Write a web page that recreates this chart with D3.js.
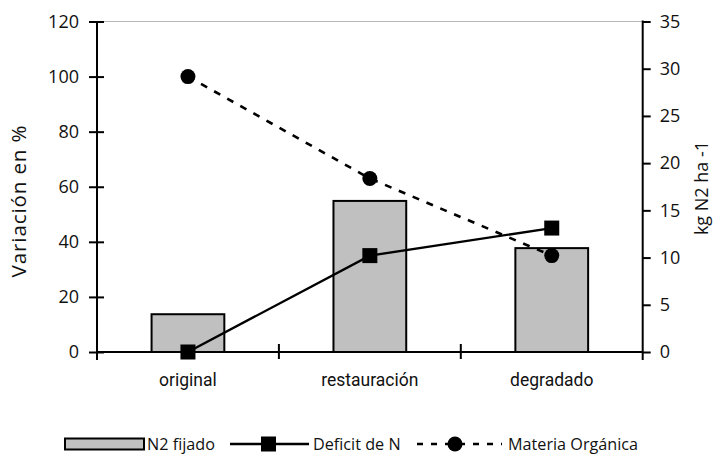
<!DOCTYPE html>
<html><head><meta charset="utf-8">
<script src="https://cdn.jsdelivr.net/npm/d3@7"></script>
<style>body{margin:0;background:#fff}svg{display:block}</style>
</head><body>
<svg id="c" width="713" height="454"></svg>
<script>
const categories = ["original", "restauración", "degradado"];
const n2Fijado = [4, 16, 11];            // kg N2 ha-1 (right axis)
const deficitN = [0, 35, 45];            // % (left axis)
const materiaOrganica = [100, 63, 35];   // % (left axis)
const leftTicks = [0, 20, 40, 60, 80, 100, 120];
const rightTicks = [0, 5, 10, 15, 20, 25, 30, 35];
const seriesNames = ["N2 fijado", "Deficit de N", "Materia Orgánica"];

const svg = d3.select("#c");
const L = 97, R = 642.7, T = 21.5, B = 352;
const numFont = "'Open Sans', sans-serif";

const x = d3.scaleBand().domain(categories).range([L, R]).paddingInner(0.6).paddingOuter(0.3);
const xb = d3.scaleLinear().domain([0, categories.length]).range([L, R]);
const yL = d3.scaleLinear().domain([0, 120]).range([B, T]);
const yR = d3.scaleLinear().domain([0, 35]).range([B, T]);
const cx = c => x(c) + x.bandwidth() / 2;

// top gray border
svg.append("line").attr("x1", L).attr("x2", R).attr("y1", T).attr("y2", T)
  .attr("stroke", "#b8b8b8").attr("stroke-width", 1);

// bars
svg.selectAll("rect.bar").data(categories).join("rect").attr("class", "bar")
  .attr("x", d => x(d)).attr("width", x.bandwidth())
  .attr("y", (d, i) => yR(n2Fijado[i])).attr("height", (d, i) => B - yR(n2Fijado[i]))
  .attr("fill", "#c0c0c0").attr("stroke", "#000").attr("stroke-width", 2);

// left axis
const gL = svg.append("g").attr("transform", `translate(${L},0)`)
  .call(d3.axisLeft(yL).tickValues(leftTicks).tickSize(8).tickPadding(10));
gL.select(".domain").remove();
gL.selectAll(".tick line").attr("x1", -8).attr("x2", 7).attr("stroke-width", 2);
gL.selectAll(".tick text").attr("font-family", numFont).attr("font-size", 18).attr("fill", "#111").attr("x", -18);
svg.append("line").attr("x1", L).attr("x2", L).attr("y1", T).attr("y2", B + 8).attr("stroke", "#000").attr("stroke-width", 2);

// right axis
const gR = svg.append("g").attr("transform", `translate(${R},0)`)
  .call(d3.axisRight(yR).tickValues(rightTicks).tickSize(8).tickPadding(9));
gR.select(".domain").remove();
gR.selectAll(".tick line").attr("stroke-width", 2);
gR.selectAll(".tick text").attr("font-family", numFont).attr("font-size", 18).attr("fill", "#111");
svg.append("line").attr("x1", R).attr("x2", R).attr("y1", T - 1).attr("y2", B + 8).attr("stroke", "#000").attr("stroke-width", 2);

// bottom axis
svg.append("line").attr("x1", L).attr("x2", R).attr("y1", B).attr("y2", B).attr("stroke", "#000").attr("stroke-width", 2);
svg.selectAll("line.cat").data(d3.range(1, categories.length)).join("line").attr("class", "cat")
  .attr("x1", d => xb(d)).attr("x2", d => xb(d)).attr("y1", B - 8).attr("y2", B + 7)
  .attr("stroke", "#000").attr("stroke-width", 2);
const gB = svg.append("g").attr("transform", `translate(0,${B})`)
  .call(d3.axisBottom(x).tickSize(0).tickPadding(22));
gB.select(".domain").remove();
gB.selectAll(".tick text").attr("font-family", "Roboto, sans-serif").attr("font-size", 17.5).attr("fill", "#111");

// lines
const lineL = d3.line().x((d, i) => cx(categories[i])).y(d => yL(d));
svg.append("path").datum(materiaOrganica).attr("d", lineL).attr("fill", "none")
  .attr("stroke", "#000").attr("stroke-width", 2.6).attr("stroke-dasharray", "7,8");
svg.append("path").datum(deficitN).attr("d", lineL).attr("fill", "none")
  .attr("stroke", "#000").attr("stroke-width", 2.4);

// markers
svg.selectAll("circle.mo").data(materiaOrganica).join("circle").attr("class", "mo")
  .attr("cx", (d, i) => cx(categories[i])).attr("cy", d => yL(d)).attr("r", 7.5).attr("fill", "#000");
svg.selectAll("rect.df").data(deficitN).join("rect").attr("class", "df")
  .attr("x", (d, i) => cx(categories[i]) - 7.5).attr("y", d => yL(d) - 7.5)
  .attr("width", 15).attr("height", 15).attr("fill", "#000");

// axis titles
svg.append("text").attr("transform", "translate(26,201) rotate(-90)")
  .attr("text-anchor", "middle").attr("font-family", numFont).attr("font-size", 20.5)
  .attr("letter-spacing", 0.9).attr("fill", "#111").text("Variación en %");
svg.append("text").attr("transform", "translate(708,188) rotate(-90)")
  .attr("text-anchor", "middle").attr("font-family", numFont).attr("font-size", 18)
  .attr("fill", "#111").text("kg N2 ha -1");

// legend
const ly = 444;
const lg = svg.append("g").attr("font-family", numFont).attr("font-size", 16.2).attr("fill", "#111");
lg.append("rect").attr("x", 65).attr("y", ly - 5.5).attr("width", 79).attr("height", 11)
  .attr("fill", "#c0c0c0").attr("stroke", "#000").attr("stroke-width", 2);
lg.append("text").attr("x", 147).attr("y", ly + 6).text(seriesNames[0]);
lg.append("line").attr("x1", 230).attr("x2", 309).attr("y1", ly).attr("y2", ly).attr("stroke", "#000").attr("stroke-width", 2.4);
lg.append("rect").attr("x", 261).attr("y", ly - 7.5).attr("width", 15).attr("height", 15).attr("fill", "#000");
lg.append("text").attr("x", 313).attr("y", ly + 6).text(seriesNames[1]);
lg.append("line").attr("x1", 417).attr("x2", 502).attr("y1", ly).attr("y2", ly).attr("stroke", "#000")
  .attr("stroke-width", 2.6).attr("stroke-dasharray", "6,8");
lg.append("circle").attr("cx", 455).attr("cy", ly).attr("r", 7.5).attr("fill", "#000");
lg.append("text").attr("x", 508).attr("y", ly + 6).text(seriesNames[2]);
</script>
</body></html>
